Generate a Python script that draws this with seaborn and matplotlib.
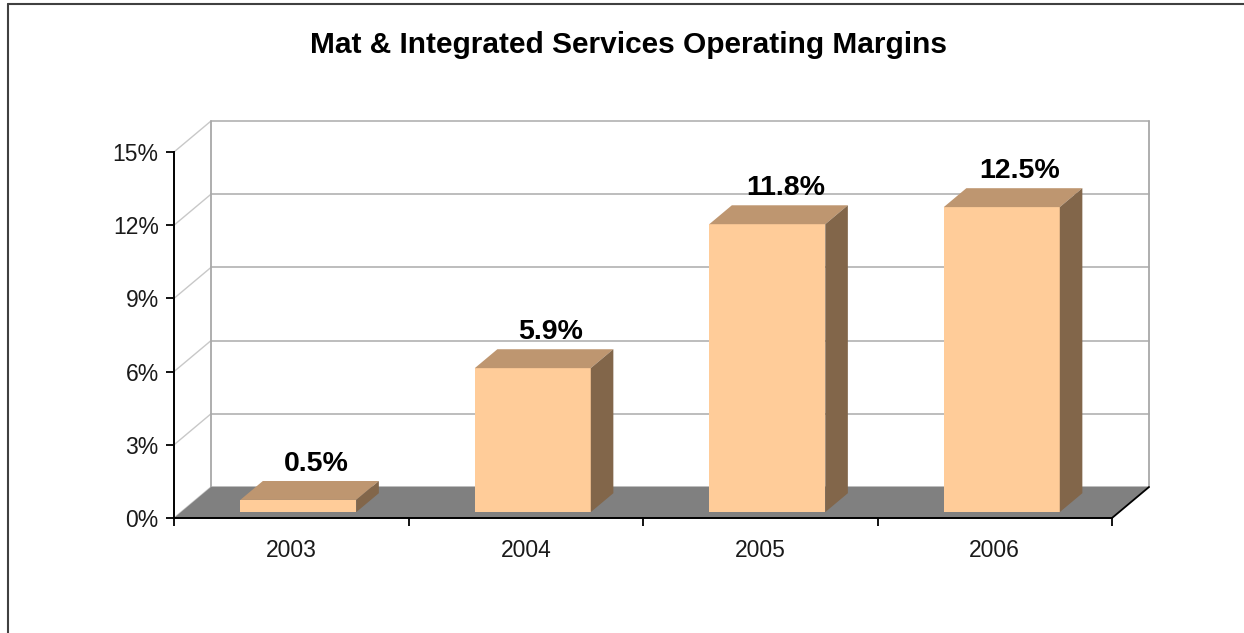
import matplotlib
matplotlib.use("Agg")
import matplotlib.pyplot as plt
import seaborn as sns
import pandas as pd
from matplotlib.patches import Polygon
from matplotlib.lines import Line2D

# ---- data ----
years = ["2003", "2004", "2005", "2006"]
margins = [0.5, 5.9, 11.8, 12.5]          # operating margin, %
y_ticks = [0, 3, 6, 9, 12, 15]
y_tick_labels = ["0%", "3%", "6%", "9%", "12%", "15%"]
title = "Mat & Integrated Services Operating Margins"

df = pd.DataFrame({"year": years, "margin": margins})

# ---- style ----
sns.set_theme(style="white")
plt.rcParams["font.family"] = ["Liberation Sans", "DejaVu Sans"]

FRONT = "#FFCC99"
TOP = "#BE9670"
SIDE = "#82664A"
FLOOR = "#808080"
WALL_LINE = "#B8B8B8"
TEXT = "#1A1A1A"

W, H = 1244, 633
fig = plt.figure(figsize=(W / 100, H / 100), dpi=100)
fig.patch.set_facecolor("white")

# front plane of the 3-D box (pixels: x 174..1112, y 152..518 from top)
ax = fig.add_axes([174 / W, (H - 518) / H, 938 / W, 366 / H])
ax.set_xlim(-0.5, 3.5)
ax.set_ylim(0, 15)
ax.patch.set_visible(False)

# oblique depth vector expressed in data units (37 px right, 31 px up)
DX = 37 / (938 / 4)
DY = 31 / (366 / 15)
F0, F1 = 0.19, 0.80   # bar depth span as a fraction of the box depth

# ---- back wall and side wall ----
x0, x1 = -0.5, 3.5
for t in y_ticks:
    ax.add_line(Line2D([x0 + DX, x1 + DX], [t + DY, t + DY], color=WALL_LINE,
                       lw=1.3, zorder=1, clip_on=False))
    ax.add_line(Line2D([x0, x0 + DX], [t, t + DY], color="#C8C8C8",
                       lw=1.0, zorder=1, clip_on=False))
for xe in (x0 + DX, x1 + DX):
    ax.add_line(Line2D([xe, xe], [DY, 15 + DY], color="#A8A8A8",
                       lw=1.3, zorder=1, clip_on=False))

# floor
ax.add_patch(Polygon([(x0, 0), (x1, 0), (x1 + DX, DY), (x0 + DX, DY)],
                     closed=True, facecolor=FLOOR, edgecolor="none",
                     zorder=2, clip_on=False))
ax.add_line(Line2D([x1, x1 + DX], [0, DY], color="black", lw=1.3,
                   zorder=3, clip_on=False))

# ---- bars: seaborn draws the front faces ----
bar_w = 116 / (938 / 4)
sns.barplot(data=df, x="year", y="margin", color=FRONT, saturation=1,
            width=bar_w, ax=ax, zorder=4, edgecolor="none")
bars = list(ax.containers[0])
ax.set_xlim(-0.5, 3.5)
ax.set_ylim(0, 15)

for patch, val in zip(bars, margins):
    patch.set_x(patch.get_x() + F0 * DX)
    patch.set_y(F0 * DY)
    patch.set_clip_on(False)
    bx0 = patch.get_x()
    bx1 = bx0 + patch.get_width()
    top = F0 * DY + val
    dxd, dyd = (F1 - F0) * DX, (F1 - F0) * DY
    ax.add_patch(Polygon([(bx0, top), (bx1, top), (bx1 + dxd, top + dyd),
                          (bx0 + dxd, top + dyd)], closed=True,
                         facecolor=TOP, edgecolor="none", zorder=5, clip_on=False))
    ax.add_patch(Polygon([(bx1, F0 * DY), (bx1 + dxd, F0 * DY + dyd),
                          (bx1 + dxd, top + dyd), (bx1, top)], closed=True,
                         facecolor=SIDE, edgecolor="none", zorder=5, clip_on=False))
    ax.annotate(f"{val:.1f}%", xy=((bx0 + bx1) / 2 + 0.8 * dxd, top + dyd),
                xytext=(0, 3), textcoords="offset points", ha="center",
                va="bottom", fontsize=20.5, fontweight="bold", color="black",
                zorder=6, annotation_clip=False)

# ---- axes decoration ----
for side in ("top", "right"):
    ax.spines[side].set_visible(False)
for side in ("left", "bottom"):
    ax.spines[side].set_color("black")
    ax.spines[side].set_linewidth(1.4)
    ax.spines[side].set_zorder(6)

ax.set_yticks(y_ticks)
ax.set_yticklabels(y_tick_labels)
ax.set_xticks(range(len(years)))
ax.set_xticklabels(years)
ax.set_xticks([x0 + i for i in range(len(years) + 1)], minor=True)
ax.tick_params(axis="y", left=True, length=6, width=1.3, color="black",
               pad=5, labelsize=16.5, labelcolor=TEXT)
ax.tick_params(axis="x", which="major", bottom=False, length=0, pad=15,
               labelsize=16.5, labelcolor=TEXT)
ax.tick_params(axis="x", which="minor", bottom=True, length=6, width=1.3,
               color="black")
ax.set_xlabel("")
ax.set_ylabel("")
ax.grid(False)

fig.text(0.505, (H - 45) / H, title, ha="center", va="center",
         fontsize=21.5, fontweight="bold", color="black")

# outer chart border (top and left edges)
fig.add_artist(Line2D([8 / W, 1], [(H - 4) / H] * 2, color="#404040",
                      lw=1.5, transform=fig.transFigure))
fig.add_artist(Line2D([8 / W, 8 / W], [0, (H - 4) / H], color="#404040",
                      lw=1.5, transform=fig.transFigure))

fig.savefig("out.png", dpi=100)
